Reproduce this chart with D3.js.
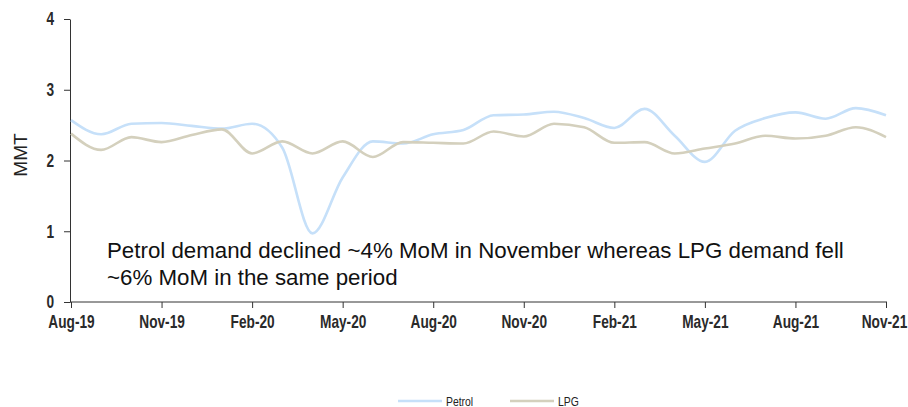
<!DOCTYPE html>
<html>
<head>
<meta charset="utf-8">
<script src="https://cdn.jsdelivr.net/npm/d3@7"></script>
<style>
  body { margin: 0; background: #fff; }
</style>
</head>
<body>
<div id="chart"></div>
<script>
const months = ["Aug-19","Sep-19","Oct-19","Nov-19","Dec-19","Jan-20","Feb-20","Mar-20","Apr-20","May-20","Jun-20","Jul-20",
  "Aug-20","Sep-20","Oct-20","Nov-20","Dec-20","Jan-21","Feb-21","Mar-21","Apr-21","May-21","Jun-21","Jul-21",
  "Aug-21","Sep-21","Oct-21","Nov-21"]
const petrol = [2.57,2.37,2.52,2.53,2.49,2.45,2.52,2.18,0.97,1.76,2.27,2.24,
  2.37,2.43,2.64,2.65,2.69,2.60,2.46,2.73,2.35,1.98,2.42,2.60,
  2.68,2.59,2.74,2.64]
const lpg = [2.38,2.15,2.33,2.26,2.36,2.44,2.10,2.27,2.10,2.27,2.05,2.26,
  2.25,2.24,2.41,2.34,2.52,2.47,2.25,2.26,2.10,2.17,2.24,2.35,
  2.31,2.35,2.47,2.33]
const xTicks = ["Aug-19","Nov-19","Feb-20","May-20","Aug-20","Nov-20","Feb-21","May-21","Aug-21","Nov-21"]
const yTicks = [0,1,2,3,4]
const seriesNames = ["Petrol","LPG"]
const colors = ["#c6e0f9","#d4d0bd"]
const note = ["Petrol demand declined ~4% MoM in November whereas LPG demand fell",
  "~6% MoM in the same period"]

const width = 908, height = 407
const margin = {left: 70, right: 22, top: 19, bottom: 105}
const font = "Liberation Sans, Arial, sans-serif"
const sx = 0.76 // squeeze tick labels, the original uses a narrow face

const svg = d3.select("#chart").append("svg")
  .attr("width", width).attr("height", height)
  .attr("font-family", font)

const x = d3.scalePoint().domain(months).range([margin.left + 1, width - margin.right])
const y = d3.scaleLinear().domain([0, 4]).range([height - margin.bottom, margin.top])

// axes
const yAxis = svg.append("g")
  .attr("transform", `translate(${margin.left},0)`)
  .call(d3.axisLeft(y).tickValues(yTicks).tickFormat(d3.format("d")).tickSize(6).tickSizeOuter(0))
yAxis.attr("font-size", 18).attr("font-family", font).attr("font-weight", "bold")
yAxis.selectAll("text")
  .attr("fill", "#2a2a2a")
  .attr("x", -16 / sx).attr("transform", `scale(${sx},1)`)

const xAxis = svg.append("g")
  .attr("transform", `translate(0,${y(0)})`)
  .call(d3.axisBottom(x).tickValues(xTicks).tickSize(6).tickPadding(7).tickSizeOuter(0))
xAxis.attr("font-size", 18).attr("font-family", font).attr("font-weight", "bold")
xAxis.selectAll("text")
  .attr("fill", "#2a2a2a")
  .attr("transform", `scale(${sx},1)`)
  .attr("x", d => d === "Nov-21" ? -2 / sx : 0)
xAxis.select(".domain").attr("d", `M${margin.left},0H${x("Nov-21") + 1}`)
svg.selectAll(".domain, .tick line").attr("stroke", "#333")

svg.append("text")
  .attr("transform", `translate(27,155) rotate(-90)`)
  .attr("text-anchor", "middle")
  .attr("font-size", 19).attr("fill", "#222")
  .text("MMT")

// lines
const line = d3.line()
  .x((d, i) => x(months[i]))
  .y(d => y(d))
  .curve(d3.curveMonotoneX)

;[petrol, lpg].forEach((s, i) => {
  svg.append("path")
    .attr("d", line(s))
    .attr("fill", "none")
    .attr("stroke", colors[i])
    .attr("stroke-width", 2.6)
})

// annotation
svg.append("text")
  .attr("font-size", 22.3).attr("fill", "#111")
  .selectAll("tspan").data(note).join("tspan")
  .attr("x", 107).attr("y", (d, i) => 258 + i * 27)
  .text(d => d)

// legend
const lg = svg.append("g").attr("font-size", 13).attr("fill", "#222")
seriesNames.forEach((n, i) => {
  const x0 = 398 + i * 112
  lg.append("line").attr("x1", x0).attr("x2", x0 + 44).attr("y1", 401).attr("y2", 401)
    .attr("stroke", colors[i]).attr("stroke-width", 2.4)
  lg.append("text").attr("x", (x0 + 48) / 0.8).attr("y", 406)
    .attr("transform", "scale(0.8,1)").text(n)
})
</script>
</body>
</html>
